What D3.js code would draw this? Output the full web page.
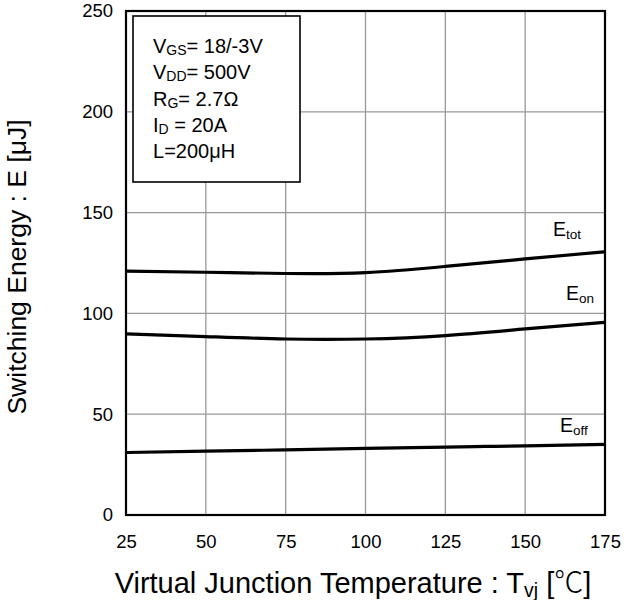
<!DOCTYPE html>
<html><head><meta charset="utf-8">
<script src="https://cdn.jsdelivr.net/npm/d3@7"></script>
<style>body{margin:0;background:#fff}svg{display:block;font-family:Arial,"Liberation Sans",sans-serif}</style>
</head><body><svg id="c" width="631" height="600"></svg>
<script>
const temps = [25, 50, 75, 100, 125, 150, 175];
const eTot = [121, 120.4, 119.8, 120.2, 123.3, 127, 130.6];
const eOn = [89.8, 88.5, 87.3, 87.3, 89, 92.3, 95.6];
const eOff = [31, 31.7, 32.3, 33, 33.7, 34.3, 35];
const xTicks = [25, 50, 75, 100, 125, 150, 175];
const yTicks = [0, 50, 100, 150, 200, 250];
const legendLines = [["V","GS","= 18/-3V"],["V","DD","= 500V"],["R","G","= 2.7Ω"],["I","D"," = 20A"],["L","","=200μH"]];

const svg = d3.select("#c");
const L = 126, R = 605, T = 11, B = 515;
const x = d3.scaleLinear().domain([25,175]).range([L,R]);
const y = d3.scaleLinear().domain([0,250]).range([B,T]);

// grid
svg.append("g").selectAll("line").data(xTicks.slice(1,-1)).join("line")
  .attr("x1",d=>x(d)).attr("x2",d=>x(d)).attr("y1",T).attr("y2",B)
  .attr("stroke","#999").attr("stroke-width",1.3);
svg.append("g").selectAll("line").data(yTicks.slice(1,-1)).join("line")
  .attr("x1",L).attr("x2",R).attr("y1",d=>y(d)).attr("y2",d=>y(d))
  .attr("stroke","#999").attr("stroke-width",1.3);

// axes labels
const xa = svg.append("g").attr("transform",`translate(0,${B})`)
  .call(d3.axisBottom(x).tickValues(xTicks).tickSize(0).tickPadding(20));
xa.select(".domain").remove();
xa.selectAll("text").attr("font-size",18.5).attr("fill","#000").attr("font-family","Arial, 'Liberation Sans', sans-serif");
const ya = svg.append("g").attr("transform",`translate(${L},0)`)
  .call(d3.axisLeft(y).tickValues(yTicks).tickSize(0).tickPadding(13));
ya.select(".domain").remove();
ya.selectAll("text").attr("font-size",18.5).attr("fill","#000").attr("font-family","Arial, 'Liberation Sans', sans-serif");

// curves
const line = d3.line().x((d,i)=>x(temps[i])).y(d=>y(d)).curve(d3.curveNatural);
[eTot,eOn,eOff].forEach(s=>{
  svg.append("path").attr("d",line(s)).attr("fill","none").attr("stroke","#000").attr("stroke-width",3.2);
});

// border
svg.append("rect").attr("x",L).attr("y",T).attr("width",R-L).attr("height",B-T)
  .attr("fill","none").attr("stroke","#000").attr("stroke-width",2.2);

// curve labels
const labs = [["E","tot",553,236],["E","on",566,300],["E","off",560,432]];
labs.forEach(l=>{
  const t = svg.append("text").attr("x",l[2]).attr("y",l[3]).attr("font-size",19.5);
  t.append("tspan").text(l[0]);
  t.append("tspan").attr("font-size",13.5).attr("dy",3).text(l[1]);
});

// legend box
svg.append("rect").attr("x",133).attr("y",16).attr("width",167).attr("height",166)
  .attr("fill","#fff").attr("stroke","#000").attr("stroke-width",1.6);
legendLines.forEach((l,i)=>{
  const t = svg.append("text").attr("x",153).attr("y",53+i*26.3).attr("font-size",20);
  t.append("tspan").text(l[0]);
  if(l[1]) t.append("tspan").attr("font-size",14).attr("dy",2).text(l[1]);
  t.append("tspan").attr("dy",l[1]?-2:0).text(l[2]);
});

// axis titles
const xt = svg.append("text").attr("x",353).attr("y",593).attr("text-anchor","middle").attr("font-size",29);
xt.append("tspan").text("Virtual Junction Temperature : T");
xt.append("tspan").attr("font-size",19.5).attr("dy",4).text("vj");
xt.append("tspan").attr("dy",-4).text(" [");
xt.append("tspan").attr("font-family","'Noto Sans CJK JP'").attr("font-weight",300).text("℃");
xt.append("tspan").text("]");
svg.append("text").attr("transform","translate(26,267) rotate(-90)").attr("text-anchor","middle")
  .attr("font-size",26.5).text("Switching Energy : E [μJ]");
</script></body></html>
